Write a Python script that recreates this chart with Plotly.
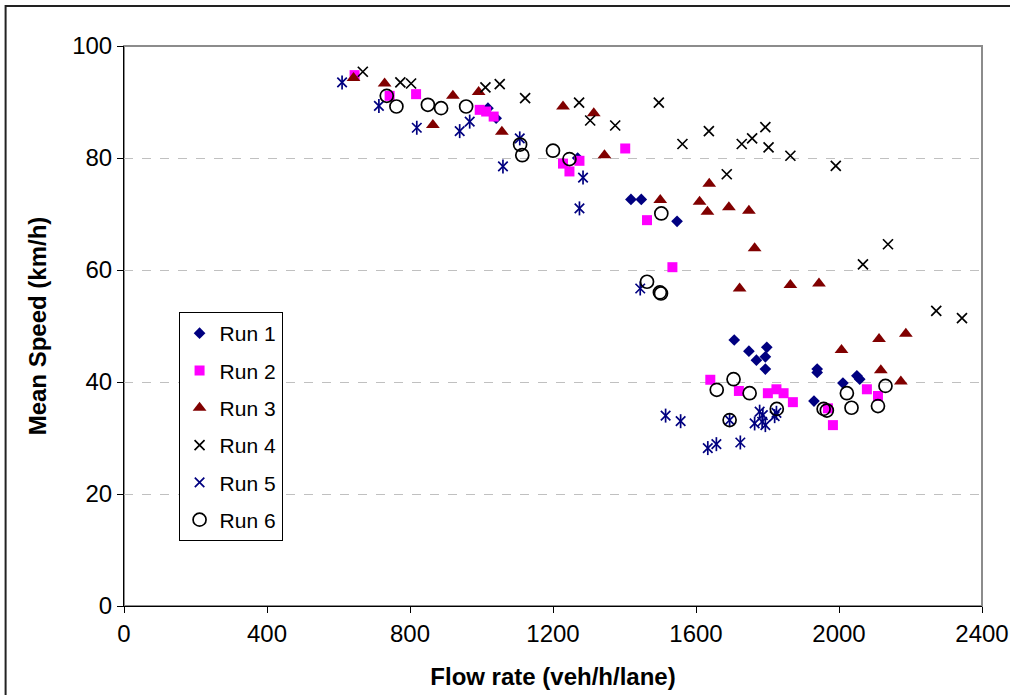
import plotly.graph_objects as go

# ---- data (flow rate veh/h/lane, mean speed km/h) ----
run1_x = [1018, 1041, 1269, 1418, 1447, 1547, 1707, 1748, 1798, 1769, 1794, 1794, 1939, 1939, 2011, 2050, 2058, 1930]
run1_y = [88.9, 87.1, 80.0, 72.6, 72.6, 68.7, 47.5, 45.5, 46.2, 43.9, 44.5, 42.3, 42.3, 41.7, 39.8, 41.1, 40.5, 36.6]

run2_x = [645, 743, 817, 995, 1013, 1034, 1228, 1246, 1274, 1402, 1463, 1534, 1640, 1720, 1801, 1825, 1845, 1871, 1969, 1983, 2078, 2109]
run2_y = [94.8, 91.1, 91.4, 88.6, 88.3, 87.4, 79.0, 77.6, 79.5, 81.7, 68.9, 60.5, 40.4, 38.4, 38.0, 38.7, 38.0, 36.4, 35.3, 32.3, 38.7, 37.5]

run3_x = [642, 729, 864, 920, 992, 1057, 1228, 1314, 1344, 1500, 1610, 1632, 1637, 1692, 1748, 1764, 1722, 1864, 1944, 2007, 2112, 2187, 2117, 2173]
run3_y = [94.3, 93.3, 85.9, 91.1, 91.8, 84.7, 89.2, 88.0, 80.5, 72.5, 72.2, 70.4, 75.4, 71.2, 70.6, 63.9, 56.7, 57.3, 57.6, 45.7, 47.7, 48.6, 42.1, 40.1]

run4_x = [668, 773, 803, 1011, 1051, 1122, 1273, 1304, 1374, 1496, 1562, 1636, 1686, 1728, 1757, 1794, 1803, 1864, 1991, 2067, 2137, 2272, 2344]
run4_y = [95.4, 93.5, 93.3, 92.6, 93.2, 90.7, 89.9, 86.7, 85.8, 89.9, 82.5, 84.8, 77.1, 82.5, 83.5, 85.5, 81.9, 80.4, 78.6, 61.0, 64.6, 52.7, 51.4]

run5_x = [610, 713, 819, 939, 967, 1060, 1107, 1274, 1284, 1444, 1515, 1557, 1633, 1657, 1694, 1724, 1764, 1778, 1787, 1794, 1785, 1820, 1825]
run5_y = [93.5, 89.3, 85.4, 84.8, 86.5, 78.5, 83.5, 71.0, 76.5, 56.7, 34.0, 33.0, 28.2, 28.9, 33.2, 29.2, 32.6, 34.7, 34.1, 32.3, 32.9, 33.9, 34.5]

run6_x = [735, 762, 850, 887, 957, 1108, 1114, 1200, 1246, 1503, 1463, 1499, 1502, 1658, 1705, 1750, 1826, 1694, 1957, 1966, 2022, 2035, 2109, 2130]
run6_y = [91.1, 89.2, 89.5, 88.9, 89.2, 82.4, 80.5, 81.3, 79.8, 70.1, 57.9, 56.0, 55.8, 38.6, 40.5, 38.0, 35.2, 33.2, 35.2, 34.9, 38.0, 35.4, 35.7, 39.3]

x_ticks = [0, 400, 800, 1200, 1600, 2000, 2400]
y_ticks = [0, 20, 40, 60, 80, 100]

FONT = "Liberation Sans, Arial, sans-serif"
NAVY = "#000080"

fig = go.Figure()

fig.add_trace(go.Scatter(x=run1_x, y=run1_y, mode="markers", name="Run 1", legendgroup="r1",
                         marker=dict(symbol="diamond", size=9, color=NAVY, line=dict(width=0))))
fig.add_trace(go.Scatter(x=run2_x, y=run2_y, mode="markers", name="Run 2", legendgroup="r2",
                         marker=dict(symbol="square", size=10, color="#FF00FF", line=dict(width=0))))
fig.add_trace(go.Scatter(x=run3_x, y=run3_y, mode="markers", name="Run 3", legendgroup="r3",
                         marker=dict(symbol="triangle-up", size=12, color="#800000", line=dict(width=0))))
fig.add_trace(go.Scatter(x=run4_x, y=run4_y, mode="markers", name="Run 4", legendgroup="r4",
                         marker=dict(symbol="x-thin-open", size=10, color="black", line=dict(width=1.7, color="black"))))
fig.add_trace(go.Scatter(x=run5_x, y=run5_y, mode="markers", name="Run 5", legendgroup="r5",
                         marker=dict(symbol="x-thin-open", size=9.5, color=NAVY, line=dict(width=1.7, color=NAVY))))
fig.add_trace(go.Scatter(x=run5_x, y=run5_y, mode="markers", name="Run 5", legendgroup="r5", showlegend=False,
                         marker=dict(symbol="line-ns-open", size=10, color=NAVY, line=dict(width=1.7, color=NAVY))))
fig.add_trace(go.Scatter(x=run6_x, y=run6_y, mode="markers", name="Run 6", legendgroup="r6",
                         marker=dict(symbol="circle-open", size=13, color="black", line=dict(width=1.7, color="black"))))

# plot area border (gray) and outer chart frame
fig.add_shape(type="rect", xref="paper", yref="paper", x0=0, y0=0, x1=1, y1=1,
              line=dict(color="#8c8c8c", width=2), layer="between")
fig.add_shape(type="rect", xref="paper", yref="paper", x0=-0.138, y0=-0.2, x1=1.06, y1=1.0714,
              line=dict(color="#222222", width=2), layer="below")

fig.update_layout(
    width=1010, height=695,
    margin=dict(l=124, r=28, t=46, b=89, autoexpand=False),
    paper_bgcolor="white", plot_bgcolor="white",
    font=dict(family=FONT, color="black"),
    showlegend=True,
    legend=dict(x=0.0636, y=0.525, xanchor="left", yanchor="top",
                bgcolor="white", bordercolor="black", borderwidth=1,
                font=dict(family=FONT, size=21, color="black"),
                tracegroupgap=7, traceorder="grouped", itemsizing="trace"),
    xaxis=dict(range=[0, 2400], tickvals=x_ticks, ticktext=[str(v) for v in x_ticks],
               automargin=False,
               showgrid=False, zeroline=False, showline=True, linecolor="black", linewidth=1,
               ticks="outside", ticklen=6, tickcolor="black",
               tickfont=dict(family=FONT, size=24, color="black"),
               title=dict(text="<b>Flow rate (veh/h/lane)</b>", font=dict(family=FONT, size=24, color="black"),
                          standoff=22)),
    yaxis=dict(range=[0, 100], tickvals=y_ticks, ticktext=[str(v) for v in y_ticks],
               automargin=False,
               showgrid=True, gridcolor="#c0c0c0", griddash="dash", gridwidth=1,
               zeroline=False, showline=True, linecolor="black", linewidth=1,
               ticks="outside", ticklen=6, tickcolor="black",
               tickfont=dict(family=FONT, size=24, color="black"),
               title=dict(text="<b>Mean Speed (km/h)</b>", font=dict(family=FONT, size=24, color="black"),
                          standoff=18)),
)

fig.write_html("out.html")
